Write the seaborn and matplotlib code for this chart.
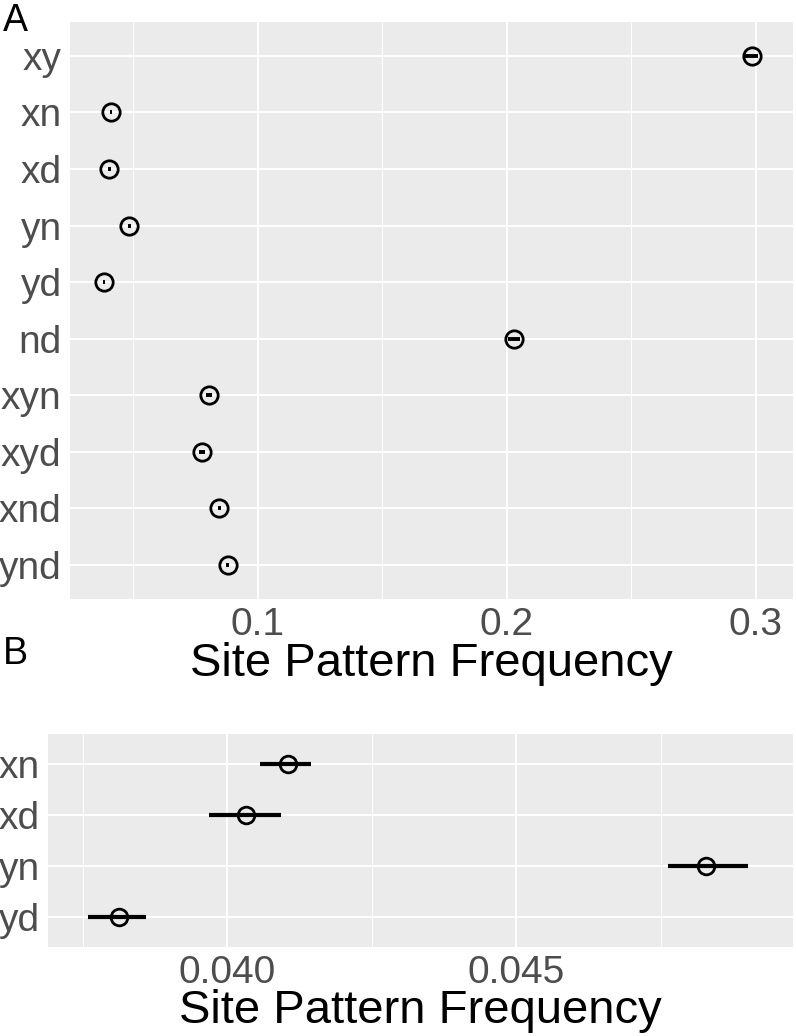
import matplotlib
matplotlib.use('Agg')
import matplotlib.pyplot as plt
import seaborn as sns
import pandas as pd
from matplotlib.ticker import FixedLocator

# Panel A: all site patterns (point estimate + CI)
patterns_a = ['xy', 'xn', 'xd', 'yn', 'yd', 'nd', 'xyn', 'xyd', 'xnd', 'ynd']
freq_a = [0.2984, 0.04105, 0.04032, 0.04829, 0.03813, 0.2029, 0.0803, 0.0774, 0.0845, 0.0878]
lo_a = [0.2958, 0.04056, 0.03969, 0.04763, 0.03759, 0.2005, 0.0791, 0.0762, 0.0839, 0.0872]
hi_a = [0.3010, 0.04145, 0.04093, 0.04902, 0.03860, 0.2053, 0.0815, 0.0786, 0.0851, 0.0884]

# Panel B: zoom on the four two-taxon patterns
patterns_b = ['xn', 'xd', 'yn', 'yd']
freq_b = [0.04105, 0.04032, 0.04829, 0.03813]
lo_b = [0.04056, 0.03969, 0.04763, 0.03759]
hi_b = [0.04145, 0.04093, 0.04902, 0.03860]

sns.set_theme(style='darkgrid')
plt.rcParams['font.family'] = ['Liberation Sans', 'DejaVu Sans']

fig = plt.figure(figsize=(7.96, 10.36), dpi=100)
ax_a = fig.add_axes([0.0879, 0.4218, 0.9083, 0.5570])
ax_b = fig.add_axes([0.0603, 0.0859, 0.9359, 0.2056])


def draw_panel(ax, patterns, freq, lo, hi, xlim, major, minor, fmt, msize, elw, lpad):
    df = pd.DataFrame({'pattern': patterns, 'freq': freq, 'lo': lo, 'hi': hi})
    ax.hlines(range(len(patterns)), df['lo'], df['hi'], color='black', lw=elw, zorder=2)
    sns.pointplot(data=df, x='freq', y='pattern', order=patterns, errorbar=None,
                  linestyle='none', markers='o', color='black', ax=ax,
                  markerfacecolor='none', markeredgecolor='black',
                  markersize=msize, markeredgewidth=2.0, zorder=3)
    ax.set_facecolor('#EBEBEB')
    ax.set_xlim(*xlim)
    ax.set_ylim(len(patterns) - 1 + 0.6, -0.6)
    ax.xaxis.set_major_locator(FixedLocator(major))
    ax.xaxis.set_minor_locator(FixedLocator(minor))
    ax.set_xticklabels([fmt.format(v) for v in major])
    ax.grid(which='major', color='white', lw=1.4)
    ax.grid(which='minor', axis='x', color='white', lw=0.7)
    ax.set_axisbelow(True)
    for s in ax.spines.values():
        s.set_visible(False)
    ax.tick_params(axis='both', which='major', length=4, width=1.1, color='#333333',
                   labelcolor='#4D4D4D', labelsize=28, pad=2)
    ax.tick_params(axis='x', which='minor', length=0)
    ax.set_ylabel('')
    ax.set_xlabel('Site Pattern Frequency', fontsize=34, color='black', labelpad=lpad)


draw_panel(ax_a, patterns_a, freq_a, lo_a, hi_a, (0.0245, 0.3149),
           [0.1, 0.2, 0.3], [0.05, 0.15, 0.25], '{:.1f}', 12.5, 2.8, -1)
draw_panel(ax_b, patterns_b, freq_b, lo_b, hi_b, (0.03690, 0.04979),
           [0.040, 0.045], [0.0375, 0.0425, 0.0475], '{:.3f}', 12, 3.0, -2)

fig.text(0.004, 0.997, 'A', fontsize=27, va='top', ha='left', color='black')
fig.text(0.004, 0.386, 'B', fontsize=27, va='top', ha='left', color='black')

fig.savefig('out.png', dpi=100)
